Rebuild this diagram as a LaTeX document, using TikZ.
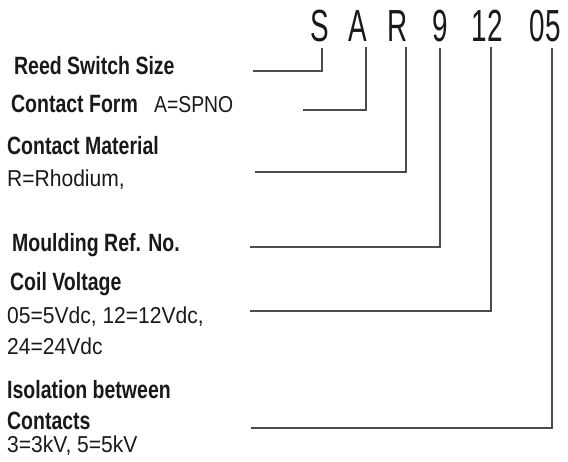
\documentclass[tikz,border=0pt]{standalone}
\usepackage{fontspec}
\setmainfont{Liberation Sans}
\newfontfamily\hdfont{Liberation Sans Bold}
\newfontfamily\txfont{Liberation Sans}
\tikzset{
  head/.style={anchor=base west, inner sep=0pt, xscale=0.78, transform shape, font=\hdfont\fontsize{25}{28}\selectfont, text=black!90},
  desc/.style={anchor=base west, inner sep=0pt, xscale=0.915, transform shape, font=\txfont\fontsize{23}{26}\selectfont, text=black!90},
  code/.style={anchor=base, inner sep=0pt, xscale=0.62, transform shape, font=\txfont\fontsize{45}{50}\selectfont, text=black!90},
  leader/.style={draw=black!70, line width=1.1pt}
}
\begin{document}
\begin{tikzpicture}[x=1pt,y=-1pt]
\useasboundingbox (0,0) rectangle (568,462);
% code letters
\node[code] (cS) at (320,42) {S};
\node[code] (cA) at (358,42) {A};
\node[code] (cR) at (398,42) {R};
\node[code] (c9) at (440,42) {9};
\node[code] (c12) at (487,42) {12};
\node[code] (c05) at (545,42) {05};
% labels
\node[head] (lSize) at (14,75) {Reed Switch Size};
\node[head] (lForm) at (11,113) {Contact Form};
\node[desc, xscale=0.92] (dForm) at (154,113) {A=SPNO};
\node[head] (lMat) at (7,155) {Contact Material};
\node[desc] (dMat) at (7,187) {R=Rhodium,};
\node[head] (lMould) at (12,252) {Moulding Ref. No.};
\node[head] (lCoil) at (10,291) {Coil Voltage};
\node[desc] (dCoil1) at (7,324) {05=5Vdc, 12=12Vdc,};
\node[desc] (dCoil2) at (7,355) {24=24Vdc};
\node[head] (lIso1) at (7,399) {Isolation between};
\node[head] (lIso2) at (7,429) {Contacts};
\node[desc] (dIso) at (7,453) {3=3kV, 5=5kV};
% free ends of leaders
\coordinate (eS) at (253,71);
\coordinate (eA) at (303,110);
\coordinate (eR) at (255,172);
\coordinate (e9) at (250,247);
\coordinate (e12) at (250,311);
\coordinate (e05) at (251,428);
% leaders
\draw[leader] (eS) -| ([shift={(2,5)}]cS.south);
\draw[leader] (eA) -| ([shift={(8,5)}]cA.south);
\draw[leader] (eR) -| ([shift={(8,5)}]cR.south);
\draw[leader] (e9) -| ([shift={(0,5)}]c9.south);
\draw[leader] (e12) -| ([shift={(4,5)}]c12.south);
\draw[leader] (e05) -| ([shift={(7,5)}]c05.south);
\end{tikzpicture}
\end{document}
